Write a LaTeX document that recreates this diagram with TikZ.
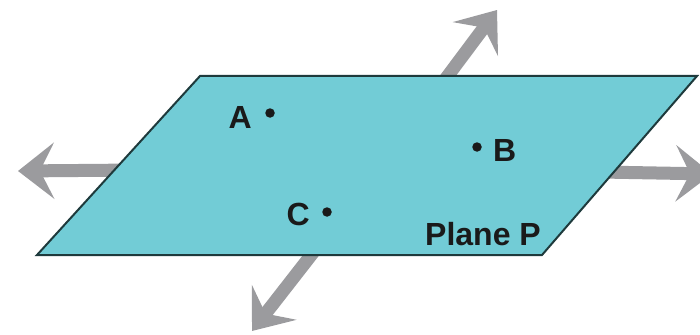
\documentclass[tikz,border=0pt]{standalone}
\usepackage{fontspec}
\setmainfont{Liberation Sans}
\usepackage{tikz}
\usetikzlibrary{arrows.meta,positioning}
\definecolor{planeTeal}{HTML}{72CCD6}
\definecolor{planeEdge}{HTML}{1E3A3C}
\definecolor{axisGray}{HTML}{9B9B9E}
\definecolor{inkDark}{HTML}{1A1A1A}
\tikzset{
  % Points lying on the plane.
  geo/dot/.style={
    circle, fill=inkDark, inner sep=0pt, minimum size=9.5pt
  },
  % Point names and the plane's name.
  geo/label/.style={
    font=\fontsize{32}{34}\selectfont\bfseries, text=inkDark, inner sep=0pt
  },
  % The plane extends without end: grey arrows, drawn under it.
  geo/axis/.style={
    -{Stealth[length=36pt,width=56pt,inset=14pt]}, line width=13pt, draw=axisGray
  },
  geo/plane/.style={
    fill=planeTeal, draw=planeEdge, line width=2pt, line join=miter
  },
}

\begin{document}
\begin{tikzpicture}[x=1pt,y=-1pt]
  \useasboundingbox (0,0) rectangle (700,334);
  \coordinate (hub)  at (379,168);
  \coordinate (tipN) at (497,10);
  \coordinate (tipS) at (252,331);
  \coordinate (tipW) at (18,171);
  \coordinate (tipE) at (712,174);
  \foreach \t in {tipN,tipS,tipW,tipE}{\draw[geo/axis] (hub) -- (\t);}
  \draw[geo/plane] (200,76) -- (697,76) -- (542,255) -- (37,255) -- cycle;
  \node[geo/dot] (ptA) at (270,113) {};
  \node[geo/dot] (ptB) at (477,147) {};
  \node[geo/dot] (ptC) at (327,212) {};
  \node[geo/label, left=13pt of ptA, yshift=-4pt]  (lblA) {A};
  \node[geo/label, right=11pt of ptB, yshift=-3pt] (lblB) {B};
  \node[geo/label, left=12pt of ptC, yshift=-2pt]  (lblC) {C};
  \node[geo/label] (lblP) at (483,234) {Plane P};
\end{tikzpicture}
\end{document}
